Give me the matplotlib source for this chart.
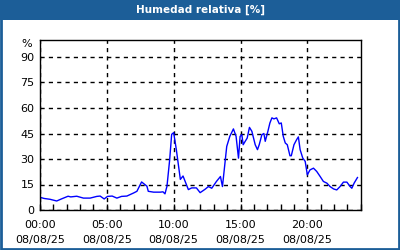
import matplotlib
matplotlib.use("Agg")
import matplotlib.pyplot as plt
from matplotlib.patches import Rectangle

# hours since 00:00 and relative humidity (%)
hours = [0.0, 0.3, 0.75, 1.25, 1.6, 2.1, 2.3, 2.75, 3.25, 3.75, 4.25, 4.5, 4.8,
         5.05, 5.4, 5.75, 6.1, 6.5, 7.0, 7.25, 7.6, 8.0, 8.1, 8.5, 9.0, 9.2,
         9.35, 9.5, 9.7, 9.85, 10.0, 10.2, 10.5, 10.7, 10.9, 11.1, 11.35, 11.7,
         11.98, 12.35, 12.6, 12.85, 13.2, 13.5, 13.65, 13.97, 14.2, 14.47, 14.67,
         14.85, 14.97, 15.1, 15.2, 15.35, 15.5, 15.67, 15.85, 16.1, 16.27, 16.4,
         16.6, 16.75, 16.85, 17.05, 17.2, 17.35, 17.5, 17.7, 17.9, 18.05, 18.2,
         18.35, 18.5, 18.7, 18.8, 19.0, 19.2, 19.33, 19.46, 19.66, 19.84, 20.0,
         20.2, 20.46, 20.7, 20.96, 21.2, 21.46, 21.7, 21.96, 22.2, 22.45, 22.7,
         22.96, 23.2, 23.33, 23.5, 23.75]
humidity = [7.5, 6.8, 6.3, 5.3, 6.5, 8.1, 7.7, 8.1, 7.0, 7.0, 8.0, 8.2, 6.5,
            8.0, 8.2, 7.0, 8.0, 8.2, 10.0, 11.0, 16.5, 14.0, 11.0, 10.5, 10.5, 10.7,
            9.5, 14.0, 29.5, 44.5, 45.5, 35.5, 18.0, 20.0, 16.0, 12.0, 13.0, 13.0,
            10.2, 12.2, 13.8, 12.8, 16.8, 19.7, 13.8, 37.4, 43.3, 47.7, 43.3,
            30.5, 43.3, 44.3, 38.4, 40.4, 42.3, 48.6, 46.3, 38.4, 35.5, 38.4,
            44.3, 45.0, 40.4, 46.3, 51.2, 54.2, 53.6, 54.2, 50.7, 51.2, 43.3,
            39.4, 38.4, 31.9, 31.9, 38.4, 41.4, 43.0, 35.5, 30.5, 28.6, 20.7,
            23.6, 24.6, 22.7, 19.7, 16.8, 15.8, 13.8, 12.4, 11.8, 13.8, 16.4,
            16.4, 13.8, 12.8, 15.8, 19.1]

x_ticks = [0, 5, 10, 15, 20]
x_labels = ["00:00\n08/08/25", "05:00\n08/08/25", "10:00\n08/08/25",
            "15:00\n08/08/25", "20:00\n08/08/25"]
y_ticks = [0, 15, 30, 45, 60, 75, 90]

blue = "#1c5e98"

fig = plt.figure(figsize=(4, 2.5), dpi=100, facecolor="white")

# title bar and frame
fig.patches.append(Rectangle((0, 0.92), 1, 0.08, transform=fig.transFigure,
                             facecolor=blue, edgecolor="none", zorder=0))
fig.patches.append(Rectangle((0.002, 0.004), 0.996, 0.994, transform=fig.transFigure,
                             facecolor="none", edgecolor=blue, linewidth=2, zorder=1))
fig.text(0.5, 0.96, "Humedad relativa [%]", color="white", fontsize=7.5,
         fontweight="bold", ha="center", va="center")

ax = fig.add_axes([0.1, 0.16, 0.802, 0.68])
ax.plot(hours, humidity, color="#0000ff", linewidth=1)
ax.set_xlim(0, 24)
ax.set_ylim(0, 100)
ax.set_xticks(x_ticks)
ax.set_xticklabels(x_labels, fontsize=8, linespacing=1.6)
ax.set_xticks(range(0, 25), minor=True)
ax.set_yticks(y_ticks)
ax.set_yticklabels([str(v) for v in y_ticks], fontsize=8)
ax.tick_params(axis="x", which="both", direction="in", length=4, width=1, pad=7)
ax.tick_params(axis="y", length=0, pad=4)
ax.grid(True, color="black", linestyle=(0, (3, 3)), linewidth=1)
for s in ax.spines.values():
    s.set_linewidth(1)
ax.text(-0.025, 0.975, "%", transform=ax.transAxes, ha="right", va="center", fontsize=8)

fig.savefig("out.png", dpi=100)
